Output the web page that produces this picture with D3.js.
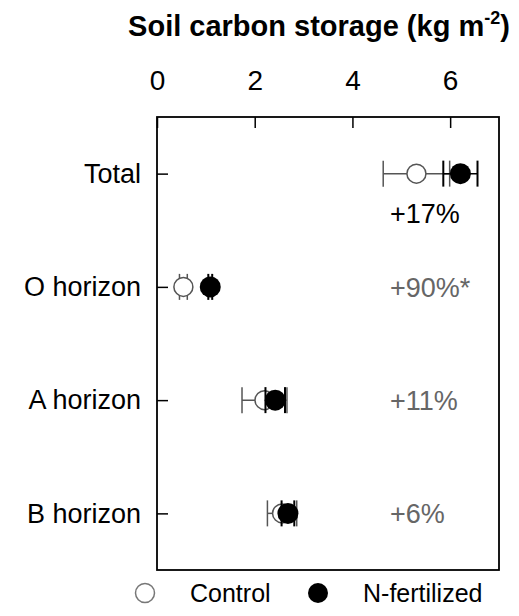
<!DOCTYPE html>
<html>
<head>
<meta charset="utf-8">
<script src="https://cdn.jsdelivr.net/npm/d3@7"></script>
<style>
  body { margin: 0; background: #fff; }
  text { font-family: "Liberation Sans", Arial, sans-serif; }
</style>
</head>
<body>
<div id="chart"></div>
<script>
// data
const categories = ["Total", "O horizon", "A horizon", "B horizon"];
const controlMean = [5.31, 0.54, 2.2, 2.56];
const controlErr = [0.68, 0.08, 0.46, 0.3];
const fertMean = [6.21, 1.09, 2.42, 2.68];
const fertErr = [0.35, 0.04, 0.2, 0.13];
const pctLabels = ["+17%", "+90%*", "+11%", "+6%"];
const xTicks = [0, 2, 4, 6];

const W = 519, H = 616;
const margin = { top: 117, right: 20, bottom: 46, left: 157 };
const width = 499 - margin.left;
const height = 570 - margin.top;

const svg = d3.select("#chart")
    .append("svg")
    .attr("width", W)
    .attr("height", H);

const g = svg.append("g")
    .attr("transform", "translate(" + margin.left + "," + margin.top + ")");

const x = d3.scaleLinear().domain([0, 7]).range([0, width]);
const y = d3.scalePoint().domain(categories).range([0, height]).padding(0.5);

// title
const title = svg.append("text")
    .attr("x", 319)
    .attr("y", 36)
    .attr("text-anchor", "middle")
    .attr("font-size", 29)
    .attr("font-weight", "bold")
    .text("Soil carbon storage (kg m");
title.append("tspan")
    .attr("font-size", 18)
    .attr("dy", -12)
    .text("-2");
title.append("tspan")
    .attr("dy", 12)
    .text(")");

// top axis, ticks inside
const xAxis = g.append("g")
    .call(d3.axisTop(x).tickValues(xTicks).tickFormat(d3.format("d")).tickSize(-11).tickPadding(27));
xAxis.select(".domain").remove();
xAxis.selectAll("line").attr("stroke", "#000").attr("stroke-width", 1.5);
xAxis.selectAll("text")
    .attr("font-size", 28)
    .attr("font-family", "Liberation Sans, Arial, sans-serif")
    .attr("fill", "#000");

// left axis, ticks inside
const yAxis = g.append("g")
    .call(d3.axisLeft(y).tickSize(-11).tickPadding(16));
yAxis.select(".domain").remove();
yAxis.selectAll("line").attr("stroke", "#000").attr("stroke-width", 1.5);
yAxis.selectAll("text")
    .attr("font-size", 27)
    .attr("font-family", "Liberation Sans, Arial, sans-serif")
    .attr("fill", "#000");

// box
g.append("rect")
    .attr("width", width)
    .attr("height", height)
    .attr("fill", "none")
    .attr("stroke", "#000")
    .attr("stroke-width", 1.8);

const rows = categories.map((c, i) => ({
    cat: c,
    cm: controlMean[i], ce: controlErr[i],
    fm: fertMean[i], fe: fertErr[i],
    pct: pctLabels[i]
}));

const capH = 13;

function errBars(key, errKey, color, sw) {
    const eb = g.append("g");
    eb.selectAll("line.bar")
        .data(rows)
        .enter().append("line")
        .attr("x1", d => x(d[key] - d[errKey]))
        .attr("x2", d => x(d[key] + d[errKey]))
        .attr("y1", d => y(d.cat))
        .attr("y2", d => y(d.cat))
        .attr("stroke", color)
        .attr("stroke-width", 1.5);
    [-1, 1].forEach(s => {
        eb.selectAll("line.cap" + s)
            .data(rows)
            .enter().append("line")
            .attr("x1", d => x(d[key] + s * d[errKey]))
            .attr("x2", d => x(d[key] + s * d[errKey]))
            .attr("y1", d => y(d.cat) - capH)
            .attr("y2", d => y(d.cat) + capH)
            .attr("stroke", color)
            .attr("stroke-width", sw);
    });
}

errBars("cm", "ce", "#555", 1.5);
g.selectAll("circle.control")
    .data(rows)
    .enter().append("circle")
    .attr("class", "control")
    .attr("cx", d => x(d.cm))
    .attr("cy", d => y(d.cat))
    .attr("r", 9.5)
    .attr("fill", "#fff")
    .attr("stroke", "#555")
    .attr("stroke-width", 1.5);

errBars("fm", "fe", "#000", 2);
g.selectAll("circle.fert")
    .data(rows)
    .enter().append("circle")
    .attr("class", "fert")
    .attr("cx", d => x(d.fm))
    .attr("cy", d => y(d.cat))
    .attr("r", 10.5)
    .attr("fill", "#000");

// percent labels
g.selectAll("text.pct")
    .data(rows)
    .enter().append("text")
    .attr("class", "pct")
    .attr("x", 233)
    .attr("y", (d, i) => i === 0 ? y(d.cat) + 49 : y(d.cat) + 10)
    .attr("font-size", 27)
    .attr("fill", (d, i) => i === 0 ? "#000" : "#666")
    .text(d => d.pct);

// legend
const leg = svg.append("g").attr("transform", "translate(0,593)");
leg.append("circle").attr("cx", 145).attr("cy", 0).attr("r", 9.5)
    .attr("fill", "#fff").attr("stroke", "#777").attr("stroke-width", 1.5);
leg.append("text").attr("x", 190).attr("y", 9).attr("font-size", 25).text("Control");
leg.append("circle").attr("cx", 318).attr("cy", 0).attr("r", 10).attr("fill", "#000");
leg.append("text").attr("x", 363).attr("y", 9).attr("font-size", 25).text("N-fertilized");
</script>
</body>
</html>
